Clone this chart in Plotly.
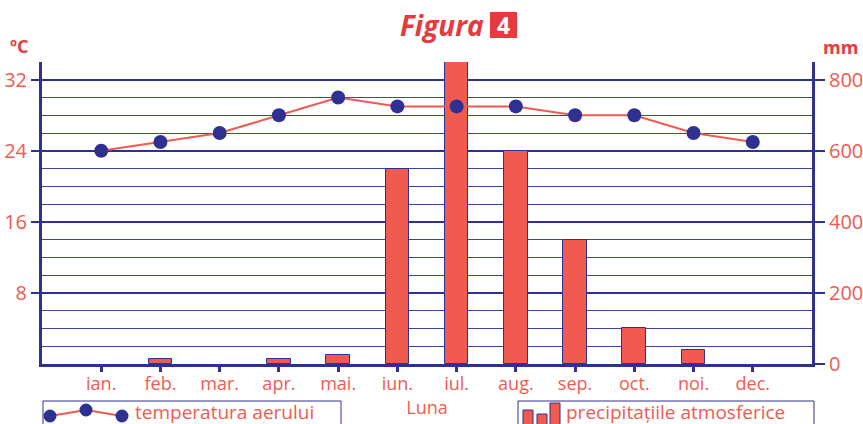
import plotly.graph_objects as go

months = ["ian.", "feb.", "mar.", "apr.", "mai.", "iun.", "iul.", "aug.", "sep.", "oct.", "noi.", "dec."]
temperature = [24, 25, 26, 28, 30, 29, 29, 29, 28, 28, 26, 25]
precipitation = [0, 15, 0, 15, 25, 550, 850, 600, 350, 100, 40, 0]
temp_ticks = [8, 16, 24, 32]
temp_minor = [2, 4, 6, 10, 12, 14, 18, 20, 22, 26, 28, 30, 34]
prec_ticks = [0, 200, 400, 600, 800]
prec_fine = [10, 20, 30, 40]

NAVY = "#2e3192"
RED = "#f15a50"
TITLE_RED = "#e63b3e"
FONT = "Open Sans"

W, H = 863, 424
PLOT_X0, PLOT_X1 = 42, 812
PLOT_Y0, PLOT_Y1 = 62, 364
L = PLOT_X0
T = PLOT_Y0
R = W - PLOT_X1
B = H - PLOT_Y1
PW = PLOT_X1 - PLOT_X0
PH = PLOT_Y1 - PLOT_Y0


def px(x):
    return (x - PLOT_X0) / PW


def py(y):
    return (PLOT_Y1 - y) / PH


fig = go.Figure()
fig.add_trace(go.Bar(
    x=months, y=precipitation, yaxis="y", width=0.4,
    marker=dict(color=RED, line=dict(color=NAVY, width=[0 if v == 0 else 1 for v in precipitation])),
    showlegend=False, hoverinfo="skip"))
fig.add_trace(go.Scatter(
    x=months, y=temperature, yaxis="y2", mode="lines+markers",
    line=dict(color=RED, width=2),
    marker=dict(color=NAVY, size=14, line=dict(width=0)),
    showlegend=False))

shapes = []
annotations = []

# legend boxes
shapes.append(dict(type="rect", xref="paper", yref="paper", x0=px(43), x1=px(341), y0=py(432), y1=py(401),
                   line=dict(color=NAVY, width=1), fillcolor="white", layer="above"))
shapes.append(dict(type="rect", xref="paper", yref="paper", x0=px(518), x1=px(814), y0=py(432), y1=py(401),
                   line=dict(color=NAVY, width=1), fillcolor="white", layer="above"))
# temperature legend icon
pts = [(50, 416), (86, 410), (122, 416)]
for (xa, ya), (xb, yb) in zip(pts[:-1], pts[1:]):
    shapes.append(dict(type="line", xref="paper", yref="paper", x0=px(xa), y0=py(ya), x1=px(xb), y1=py(yb),
                       line=dict(color=RED, width=2), layer="above"))
for (xa, ya) in pts:
    shapes.append(dict(type="circle", xref="paper", yref="paper", x0=px(xa - 6.5), x1=px(xa + 6.5),
                       y0=py(ya + 6.5), y1=py(ya - 6.5), fillcolor=NAVY, line=dict(width=0), layer="above"))
# precipitation legend icon
for x0, x1, top in [(523, 533, 410), (537, 547, 414), (550, 560, 403)]:
    shapes.append(dict(type="rect", xref="paper", yref="paper", x0=px(x0), x1=px(x1), y0=py(432), y1=py(top),
                       fillcolor=RED, line=dict(color=NAVY, width=1), layer="above"))

annotations.append(dict(text="temperatura aerului", xref="paper", yref="paper", x=px(133), y=py(412),
                        xanchor="left", yanchor="middle", showarrow=False,
                        font=dict(family=FONT, size=19, color=RED)))
annotations.append(dict(text="precipitațiile atmosferice", xref="paper", yref="paper", x=px(564), y=py(412),
                        xanchor="left", yanchor="middle", showarrow=False,
                        font=dict(family=FONT, size=19, color=RED)))

# title
annotations.append(dict(text="<b><i>Figura</i></b>", xref="paper", yref="paper", x=px(486), y=py(25),
                        xanchor="right", yanchor="middle", showarrow=False,
                        font=dict(family=FONT, size=28, color=TITLE_RED)))
shapes.append(dict(type="rect", xref="paper", yref="paper", x0=px(490), x1=px(517), y0=py(38), y1=py(12),
                   fillcolor=TITLE_RED, line=dict(width=0)))
annotations.append(dict(text="<b>4</b>", xref="paper", yref="paper", x=px(503.5), y=py(25),
                        xanchor="center", yanchor="middle", showarrow=False,
                        font=dict(family=FONT, size=23, color="white")))
# unit labels
annotations.append(dict(text="<b>ºC</b>", xref="paper", yref="paper", x=px(19), y=py(46),
                        xanchor="center", yanchor="middle", showarrow=False,
                        font=dict(family=FONT, size=18, color=TITLE_RED)))
annotations.append(dict(text="<b>mm</b>", xref="paper", yref="paper", x=px(840), y=py(47),
                        xanchor="center", yanchor="middle", showarrow=False,
                        font=dict(family=FONT, size=18, color=TITLE_RED)))

fig.update_layout(
    width=W, height=H,
    margin=dict(l=L, r=R, t=T, b=B, autoexpand=False),
    plot_bgcolor="white", paper_bgcolor="white",
    bargap=0, showlegend=False,
    xaxis=dict(type="category", range=[-1, 12], showline=True, linecolor=NAVY, linewidth=3,
               ticks="outside", ticklen=5, tickwidth=3, tickcolor=NAVY, ticklabelstandoff=-4,
               tickfont=dict(family=FONT, size=18, color=RED),
               title=dict(text="Luna", font=dict(family=FONT, size=18, color=RED), standoff=0),
               showgrid=False, zeroline=False, fixedrange=True, automargin=False),
    yaxis=dict(side="right", range=[0, 850], tickmode="array", tickvals=prec_ticks,
               showline=True, linecolor=NAVY, linewidth=3,
               ticks="outside", ticklen=10, tickwidth=2, tickcolor=NAVY,
               tickfont=dict(family=FONT, size=20, color=RED),
               showgrid=False, zeroline=False, automargin=False),
    yaxis2=dict(overlaying="y", side="left", range=[0, 34], tickmode="array", tickvals=temp_ticks,
                showline=True, linecolor=NAVY, linewidth=3,
                ticks="outside", ticklen=8, tickwidth=2, tickcolor=NAVY,
                tickfont=dict(family=FONT, size=20, color=RED),
                showgrid=True, gridcolor=NAVY, gridwidth=2, zeroline=False, automargin=False,
                minor=dict(tickmode="array", tickvals=temp_minor, showgrid=True,
                           gridcolor="#3f43a0", gridwidth=1.4, ticks="")),
    yaxis3=dict(overlaying="y", side="left", range=[0, 850], tickmode="array", tickvals=prec_fine,
                showticklabels=False, ticks="", showline=False, automargin=False,
                showgrid=True, gridcolor="#5558aa", gridwidth=1, zeroline=False),
    shapes=shapes, annotations=annotations,
)

fig.write_html("out.html", config={"displayModeBar": False},
               post_script="document.body.style.margin='0';document.body.style.overflow='hidden';")
